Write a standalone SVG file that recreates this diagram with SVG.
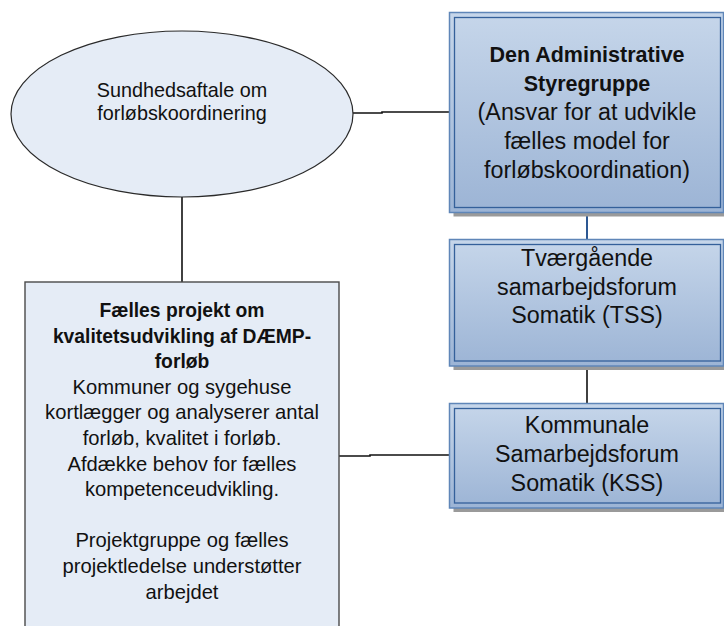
<svg xmlns="http://www.w3.org/2000/svg" width="724" height="626" viewBox="0 0 724 626">
  <defs>
    <linearGradient id="boxFill" x1="0" y1="0" x2="0" y2="1">
      <stop offset="0" stop-color="#c6d6ea"/>
      <stop offset="1" stop-color="#9cb4d5"/>
    </linearGradient>
    <style>
      text { font-family: "Liberation Sans", Arial, sans-serif; fill: #111; text-anchor: middle; }
      .ell { font-size: 19.8px; }
      .box { font-size: 23.3px; }
      .boxb { font-size: 21.5px; font-weight: bold; }
      .lt { font-size: 20.2px; }
      .ltb { font-size: 19.3px; font-weight: bold; }
      .shadow { fill: #9a9a9a; }
      .outer { fill: url(#boxFill); stroke: #5f86b8; stroke-width: 1.5; }
      .inner { fill: none; stroke: #34609a; stroke-width: 1.3; }
      .conn { fill: none; stroke: #111; stroke-width: 1.6; }
      .conn.blue { stroke: #2d5893; stroke-width: 2; }
    </style>
  </defs>
  <rect width="724" height="626" fill="#ffffff"/>

  <!-- connectors -->
  <g id="connectors">
    <path class="conn" d="M353,113 H382 V112 H450"/>
    <path class="conn" d="M182,197 V282"/>
    <path class="conn blue" d="M587,212 V240"/>
    <path class="conn" d="M587,366 V404"/>
    <path class="conn" d="M339,456 H370 V455 H450"/>
  </g>

  <!-- agreement (ellipse) -->
  <g id="sundhedsaftale">
    <ellipse cx="182" cy="114" rx="171" ry="83" fill="#e5ecf6" stroke="#2a2a2a" stroke-width="1.2"/>
    <text class="ell" x="182" y="97">Sundhedsaftale om</text>
    <text class="ell" x="182" y="120">forløbskoordinering</text>
  </g>

  <!-- steering group -->
  <g id="styregruppe">
    <rect class="shadow" x="453.5" y="16.5" width="274" height="200"/>
    <rect class="outer" x="449.5" y="12.5" width="274" height="200"/>
    <rect class="inner" x="454.5" y="17.5" width="266" height="190"/>
    <text class="boxb" x="587" y="62">Den Administrative</text>
    <text class="boxb" x="587" y="91">Styregruppe</text>
    <text class="box" x="587" y="120">(Ansvar for at udvikle</text>
    <text class="box" x="587" y="149">fælles model for</text>
    <text class="box" x="587" y="178">forløbskoordination)</text>
  </g>

  <!-- TSS -->
  <g id="tss">
    <rect class="shadow" x="453.5" y="243.5" width="274" height="126.5"/>
    <rect class="outer" x="449.5" y="239.5" width="274" height="126.5"/>
    <rect class="inner" x="454.5" y="244.5" width="266" height="116.5"/>
    <text class="box" x="587" y="266">Tværgående</text>
    <text class="box" x="587" y="294.5">samarbejdsforum</text>
    <text class="box" x="587" y="323">Somatik (TSS)</text>
  </g>

  <!-- KSS -->
  <g id="kss">
    <rect class="shadow" x="453.5" y="407.5" width="274" height="104.5"/>
    <rect class="outer" x="449.5" y="403.5" width="274" height="104.5"/>
    <rect class="inner" x="454.5" y="408.5" width="266" height="94.5"/>
    <text class="box" x="587" y="433">Kommunale</text>
    <text class="box" x="587" y="462">Samarbejdsforum</text>
    <text class="box" x="587" y="491">Somatik (KSS)</text>
  </g>

  <!-- joint project -->
  <g id="projekt">
    <rect x="25" y="282" width="314" height="360" fill="#e5ecf6" stroke="#4a4a4a" stroke-width="1.4"/>
    <text class="ltb" x="182" y="317">Fælles projekt om</text>
    <text class="ltb" x="182" y="342.6">kvalitetsudvikling af DÆMP-</text>
    <text class="ltb" x="182" y="368.2">forløb</text>
    <text class="lt" x="182" y="393.8">Kommuner og sygehuse</text>
    <text class="lt" x="182" y="419.4">kortlægger og analyserer antal</text>
    <text class="lt" x="182" y="445">forløb, kvalitet i forløb.</text>
    <text class="lt" x="182" y="470.6">Afdække behov for fælles</text>
    <text class="lt" x="182" y="496.2">kompetenceudvikling.</text>
    <text class="lt" x="182" y="547.4">Projektgruppe og fælles</text>
    <text class="lt" x="182" y="573">projektledelse understøtter</text>
    <text class="lt" x="182" y="598.6">arbejdet</text>
  </g>
</svg>
